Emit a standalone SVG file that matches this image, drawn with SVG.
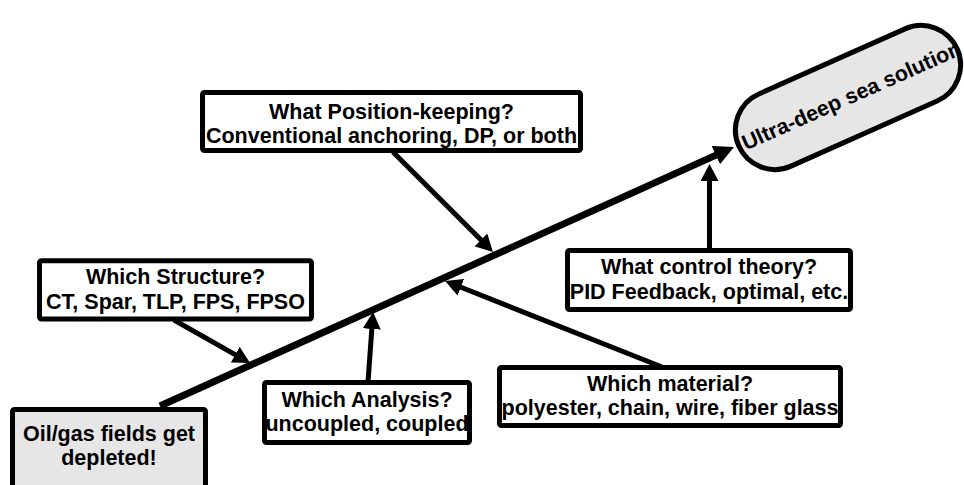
<svg xmlns="http://www.w3.org/2000/svg" width="964" height="485" viewBox="0 0 964 485">
  <defs>
    <style>
      .box { fill: #ffffff; stroke: #000000; stroke-width: 5; }
      .shade { fill: #e6e6e6; stroke: #000000; stroke-width: 5; }
      .lbl { font-family: "Liberation Sans", Arial, sans-serif; font-weight: bold; font-size: 21.5px; fill: #000000; text-anchor: middle; }
      .spine { fill: none; stroke: #000000; stroke-width: 7; }
      .rib { fill: none; stroke: #000000; stroke-width: 5; }
    </style>
    <marker id="spineHead" viewBox="0 0 20 20" markerWidth="20" markerHeight="20" refX="10" refY="10" orient="auto" markerUnits="userSpaceOnUse">
      <path d="M0,0 L20,10 L0,20 z" fill="#000000"/>
    </marker>
    <marker id="ribHead" viewBox="0 0 17 18" markerWidth="17" markerHeight="18" refX="8" refY="9" orient="auto" markerUnits="userSpaceOnUse">
      <path d="M0,0 L17,9 L0,18 z" fill="#000000"/>
    </marker>
  </defs>

  <!-- connectors: main spine and the cause arrows feeding into it -->
  <g id="connectors">
    <path class="spine" d="M160,406 L724.9,151.1" marker-end="url(#spineHead)"/>
    <path class="rib" d="M174,320 L242.2,358.6" marker-end="url(#ribHead)"/>
    <path class="rib" d="M393,152 L486.6,245.6" marker-end="url(#ribHead)"/>
    <path class="rib" d="M368,382 L372.4,321" marker-end="url(#ribHead)"/>
    <path class="rib" d="M662,367 L453.4,284.3" marker-end="url(#ribHead)"/>
    <path class="rib" d="M709.5,250 L709.5,173" marker-end="url(#ribHead)"/>
  </g>

  <g id="start">
    <rect class="shade" x="12.5" y="409.5" width="193" height="90" rx="2"/>
    <text class="lbl" x="109" y="440.5">Oil/gas fields get</text>
    <text class="lbl" x="109" y="464.5">depleted!</text>
  </g>

  <g id="structure">
    <rect class="box" x="39.5" y="260.8" width="272" height="58.2" rx="2"/>
    <text class="lbl" x="175.5" y="284">Which Structure?</text>
    <text class="lbl" x="175.5" y="308.5">CT, Spar, TLP, FPS, FPSO</text>
  </g>

  <g id="positioning">
    <rect class="box" x="202.5" y="92.5" width="378" height="58" rx="2"/>
    <text class="lbl" x="391.5" y="118.5">What Position-keeping?</text>
    <text class="lbl" x="391.5" y="143">Conventional anchoring, DP, or both</text>
  </g>

  <g id="analysis">
    <rect class="box" x="264.5" y="382.5" width="205" height="60" rx="2"/>
    <text class="lbl" x="367" y="406.5">Which Analysis?</text>
    <text class="lbl" x="367" y="430.5">uncoupled, coupled</text>
  </g>

  <g id="material">
    <rect class="box" x="499.5" y="367.5" width="341" height="58" rx="2"/>
    <text class="lbl" x="670" y="390.5">Which material?</text>
    <text class="lbl" x="670" y="415">polyester, chain, wire, fiber glass</text>
  </g>

  <g id="control">
    <rect class="box" x="567.5" y="250.5" width="283" height="59" rx="2"/>
    <text class="lbl" x="709" y="273.5">What control theory?</text>
    <text class="lbl" x="709" y="298.5">PID Feedback, optimal, etc.</text>
  </g>

  <g id="solution" transform="translate(848,97.5) rotate(-24)">
    <rect class="shade" x="-119.5" y="-39.5" width="239" height="79" rx="39.5" stroke-width="5.5"/>
    <text class="lbl" x="4" y="7">Ultra-deep sea solution</text>
  </g>
</svg>
